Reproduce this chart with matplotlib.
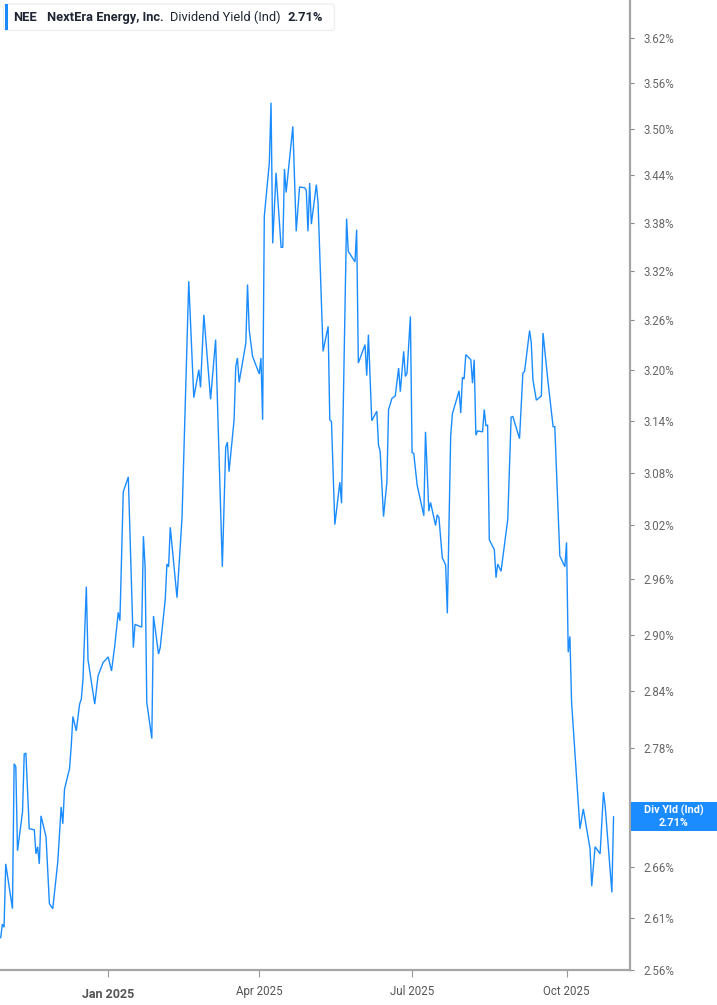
import numpy as np
import pandas as pd
import matplotlib
matplotlib.use("Agg")
import matplotlib.pyplot as plt
import matplotlib.dates as mdates
from matplotlib.patches import FancyBboxPatch, Rectangle
from matplotlib.ticker import FixedLocator, NullLocator, FuncFormatter

# ---------------- data ----------------
base_date = "2025-01-01"
day_offsets = [
    -64, -63, -62, -61, -57, -56, -55, -54, -51, -50, -49, -47, -44, -43, -42, -41, -40, -37, -35, -33,
    -30, -28, -27, -26, -23, -22, -21, -19, -17, -16, -15, -13, -12, -8, -6, -3, 0, 2, 4, 6,
    7, 9, 12, 15, 16, 20, 21, 22, 23, 26, 27, 30, 31, 34, 35, 36, 37, 41, 44, 48,
    51, 54, 55, 57, 61, 64, 68, 70, 71, 72, 75, 76, 77, 78, 82, 83, 84, 86, 90, 91,
    92, 93, 96, 97, 98, 100, 103, 104, 105, 106, 110, 112, 114, 117, 118, 119, 120, 121, 124, 125,
    128, 131, 132, 133, 135, 138, 139, 142, 143, 147, 148, 149, 153, 154, 155, 157, 160, 161, 162, 164,
    166, 167, 169, 171, 173, 174, 176, 177, 178, 180, 181, 182, 184, 188, 189, 191, 192, 195, 196, 197,
    199, 201, 202, 204, 205, 209, 210, 211, 212, 213, 216, 217, 218, 219, 220, 223, 224, 225, 226, 227,
    230, 231, 232, 234, 238, 240, 241, 245, 247, 248, 251, 252, 253, 255, 258, 259, 262, 265, 266, 269,
    272, 273, 274, 275, 276, 281, 283, 287, 288, 290, 293, 295, 296, 300, 301,
]
div_yield = [
    2.591, 2.604, 2.601, 2.663, 2.619, 2.764, 2.761, 2.676, 2.715, 2.774, 2.775, 2.698, 2.697, 2.673, 2.680, 2.663, 2.711, 2.690, 2.624, 2.619,
    2.665, 2.720, 2.703, 2.738, 2.759, 2.782, 2.813, 2.798, 2.826, 2.831, 2.852, 2.952, 2.873, 2.826, 2.856, 2.870, 2.876, 2.861, 2.889, 2.924,
    2.915, 3.058, 3.075, 2.886, 2.911, 2.908, 3.008, 2.974, 2.828, 2.790, 2.920, 2.879, 2.886, 2.938, 2.977, 2.974, 3.018, 2.940, 3.029, 3.307,
    3.167, 3.200, 3.179, 3.266, 3.165, 3.236, 2.974, 3.109, 3.115, 3.081, 3.141, 3.204, 3.214, 3.185, 3.232, 3.303, 3.248, 3.216, 3.195, 3.214,
    3.141, 3.388, 3.456, 3.534, 3.354, 3.443, 3.349, 3.349, 3.448, 3.418, 3.503, 3.369, 3.425, 3.424, 3.421, 3.369, 3.430, 3.378, 3.428, 3.405,
    3.222, 3.252, 3.141, 3.139, 3.021, 3.069, 3.045, 3.385, 3.344, 3.331, 3.371, 3.208, 3.230, 3.193, 3.242, 3.140, 3.151, 3.112, 3.104, 3.030,
    3.069, 3.153, 3.166, 3.169, 3.202, 3.174, 3.222, 3.192, 3.196, 3.264, 3.103, 3.102, 3.066, 3.031, 3.127, 3.036, 3.046, 3.020, 3.032, 3.029,
    2.984, 2.976, 2.923, 3.122, 3.148, 3.175, 3.149, 3.191, 3.189, 3.218, 3.212, 3.184, 3.212, 3.123, 3.128, 3.127, 3.153, 3.134, 3.135, 3.004,
    2.993, 2.962, 2.977, 2.969, 3.027, 3.144, 3.145, 3.119, 3.196, 3.198, 3.247, 3.232, 3.188, 3.164, 3.169, 3.244, 3.185, 3.133, 3.133, 2.986,
    2.974, 3.001, 2.881, 2.898, 2.828, 2.698, 2.718, 2.678, 2.641, 2.680, 2.673, 2.735, 2.721, 2.635, 2.710,
]
y_ticks = [3.62, 3.56, 3.50, 3.44, 3.38, 3.32, 3.26, 3.20, 3.14, 3.08, 3.02, 2.96,
           2.90, 2.84, 2.78, 2.72, 2.66, 2.61, 2.56]
x_tick_dates = ["2025-01-01", "2025-04-01", "2025-07-01", "2025-10-01"]
x_tick_labels = ["Jan 2025", "Apr 2025", "Jul 2025", "Oct 2025"]
ticker_sym = "NEE"
company = "NextEra Energy, Inc."
metric = "Dividend Yield (Ind)"
badge_label = "Div Yld (Ind)"
last_value = 2.71

dates = pd.Timestamp(base_date) + pd.to_timedelta(day_offsets, unit="D")

# ---------------- figure ----------------
W, H = 717, 1005
fig = plt.figure(figsize=(W / 100, H / 100), dpi=100)
plt.rcParams["font.family"] = ["Roboto", "DejaVu Sans"]

ax = fig.add_axes([0, (H - 970) / H, 629.5 / W, 970 / H])
line_color = "#1b8cff"
ax.plot(dates, div_yield, color=line_color, lw=1.0, solid_joinstyle="miter")

ax.set_yscale("log")
ax.set_ylim(2.56, 3.6715)
ax.set_xlim(pd.Timestamp("2024-10-28 14:00"), pd.Timestamp("2025-11-07 12:00"))

# spines
for s in ["top", "left"]:
    ax.spines[s].set_visible(False)
axis_gray = "#a6a6a6"
ax.spines["right"].set_color(axis_gray)
ax.spines["right"].set_linewidth(1.6)
ax.spines["bottom"].set_color(axis_gray)
ax.spines["bottom"].set_linewidth(1.6)

# y axis on right (the 2.72% label sits under the last-value badge)
hidden_label = 2.72
ax.yaxis.tick_right()
ax.yaxis.set_major_locator(FixedLocator(y_ticks))
ax.yaxis.set_minor_locator(NullLocator())
ax.yaxis.set_major_formatter(FuncFormatter(
    lambda v, p: "" if abs(v - hidden_label) < 1e-9 else f"{v:.2f}%"))
ax.tick_params(axis="y", which="major", direction="out", length=3, width=0.8,
               color="#888888", labelcolor="#666666", labelsize=8.3, pad=7)

# x axis
ax.xaxis.set_major_locator(FixedLocator(mdates.date2num(pd.to_datetime(x_tick_dates))))
ax.xaxis.set_minor_locator(NullLocator())
ax.set_xticklabels(x_tick_labels)
ax.tick_params(axis="x", which="major", direction="out", length=5, width=0.8,
               color="#999999", labelcolor="#555555", labelsize=8.3, pad=6)
for lab in ax.get_xticklabels():
    if lab.get_text() == "Jan 2025":
        lab.set_fontweight("bold")
        lab.set_fontsize(9)
        lab.set_y(-0.003)

ax.grid(False)

# ---------------- legend box (top-left) ----------------
box = FancyBboxPatch((3.5 / W, 1 - 30.5 / H), 331 / W, 26.5 / H,
                     boxstyle="round,pad=0,rounding_size=0.004",
                     transform=fig.transFigure, facecolor="white",
                     edgecolor="#ececec", linewidth=0.8, zorder=5)
fig.patches.append(box)
bar = Rectangle((4.5 / W, 1 - 30 / H), 3 / W, 25.5 / H, transform=fig.transFigure,
                facecolor=line_color, edgecolor="none", zorder=6)
fig.patches.append(bar)
ty = 1 - 17.5 / H
txt_color = "#1f2633"
fig.text(13 / W, ty, ticker_sym, fontsize=9.3, fontweight="bold", color=txt_color,
         va="center", ha="left", zorder=7)
fig.text(47 / W, ty, company, fontsize=9.3, fontweight="bold", color=txt_color,
         va="center", ha="left", zorder=7)
fig.text(170 / W, ty, metric, fontsize=9.3, color=txt_color,
         va="center", ha="left", zorder=7)
fig.text(287 / W, ty, f"{last_value:.2f}%", fontsize=9.3, fontweight="bold",
         color=txt_color, va="center", ha="left", zorder=7)

# ---------------- last-value badge on the right axis ----------------
fig.canvas.draw()
y_disp = ax.transData.transform((mdates.date2num(dates[-1]), last_value))[1]
yc = y_disp / H
bh = 29 / H
badge = Rectangle((631 / W, yc - bh / 2), (W - 631) / W, bh, transform=fig.transFigure,
                  facecolor="#1b8cff", edgecolor="none", zorder=10)
fig.patches.append(badge)
fig.text(674 / W, yc + 6.5 / H, badge_label, fontsize=7.8, fontweight="bold",
         color="white", ha="center", va="center", zorder=11)
fig.text(674 / W, yc - 6.5 / H, f"{last_value:.2f}%", fontsize=7.8, fontweight="bold",
         color="white", ha="center", va="center", zorder=11)

fig.savefig("out.png", dpi=100, facecolor="white")
